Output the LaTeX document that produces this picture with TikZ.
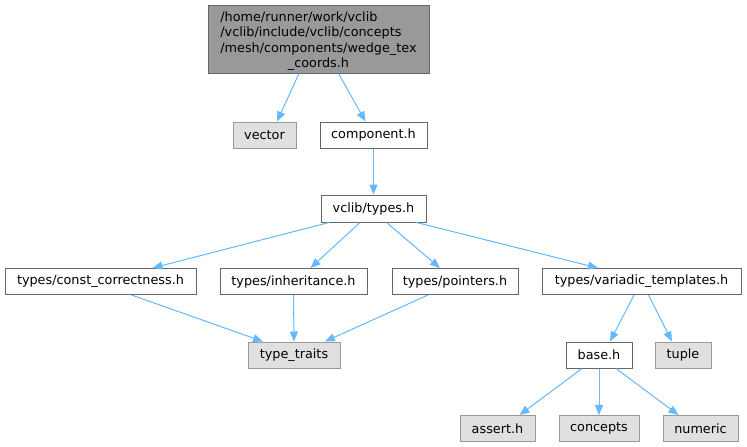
\documentclass[tikz,border=0pt]{standalone}
\usepackage{fontspec}
\setmainfont{DejaVu Sans}
\usetikzlibrary{arrows.meta}
\definecolor{edgeblue}{HTML}{63B8FF}
\definecolor{bdark}{HTML}{666666}
\definecolor{bgray}{HTML}{999999}
\definecolor{fgray}{HTML}{E0E0E0}
\tikzset{
 box/.style={draw=bdark, fill=white, line width=1pt, inner sep=0pt, font=\fontsize{12.8}{15.5}\selectfont, text=black},
 sysbox/.style={box, draw=bgray, fill=fgray},
 topbox/.style={box, fill=bgray},
 dep/.style={draw=edgeblue, line width=1pt, -{Triangle[length=10pt,width=8pt]}},
}
\begin{document}
\begin{tikzpicture}[x=1pt,y=-1pt]
\useasboundingbox (0,0) rectangle (747,447);
\node[topbox, minimum width=221pt, minimum height=68pt] (top) at (318.5,39) {\raisebox{-2.5pt}[\height][\depth]{\begin{tabular}{@{}l@{}}/home/runner/work/vclib\\/vclib/include/vclib/concepts\\/mesh/components/wedge\_tex\\\multicolumn{1}{@{}c@{}}{\_coords.h}\end{tabular}}};
\node[sysbox, minimum width=63pt, minimum height=26pt] (vector) at (264.5,135) {vector};
\node[box, minimum width=107pt, minimum height=26pt] (component) at (373.5,135) {component.h};
\node[box, minimum width=105pt, minimum height=27pt] (types) at (373.5,208.5) {vclib/types.h};
\node[box, minimum width=191pt, minimum height=26pt] (const) at (100.5,281.5) {types/const\_correctness.h};
\node[box, minimum width=147pt, minimum height=26pt] (inher) at (293.5,281.5) {types/inheritance.h};
\node[box, minimum width=126pt, minimum height=26pt] (pointers) at (455,281.5) {types/pointers.h};
\node[box, minimum width=199pt, minimum height=26pt] (variadic) at (641.5,281.5) {types/variadic\_templates.h};
\node[sysbox, minimum width=92pt, minimum height=26pt] (traits) at (294,355) {type\_traits};
\node[box, minimum width=66pt, minimum height=26pt] (base) at (599,355) {base.h};
\node[sysbox, minimum width=56pt, minimum height=26pt] (tuple) at (683,355) {tuple};
\node[sysbox, minimum width=75pt, minimum height=26pt] (assert) at (497.5,428.5) {assert.h};
\node[sysbox, minimum width=80pt, minimum height=26pt] (concepts) at (599,428.5) {concepts};
\node[sysbox, minimum width=75pt, minimum height=26pt] (numeric) at (700.5,428.5) {numeric};

\draw[dep] ([xshift=-19.5pt]top.south) -- ([xshift=12.5pt]vector.north);
\draw[dep] ([xshift=20pt]top.south) -- ([xshift=-8pt]component.north);
\draw[dep] (component.south) -- (types.north);
\draw[dep] ([xshift=-44.5pt]types.south) -- ([xshift=52pt]const.north);
\draw[dep] ([xshift=-13.5pt]types.south) -- ([xshift=17pt]inher.north);
\draw[dep] ([xshift=13pt]types.south) -- ([xshift=-15pt]pointers.north);
\draw[dep] ([xshift=43pt]types.south) -- ([xshift=-43.5pt]variadic.north);
\draw[dep] ([xshift=31pt]const.south) -- ([xshift=-31pt]traits.north);
\draw[dep] (inher.south) -- (traits.north);
\draw[dep] ([xshift=-27pt]pointers.south) -- ([xshift=31pt]traits.north);
\draw[dep] ([xshift=-7.5pt]variadic.south) -- ([xshift=11pt]base.north);
\draw[dep] ([xshift=7pt]variadic.south) -- ([xshift=-11pt]tuple.north);
\draw[dep] ([xshift=-17pt]base.south) -- ([xshift=22pt]assert.north);
\draw[dep] (base.south) -- (concepts.north);
\draw[dep] ([xshift=17pt]base.south) -- ([xshift=-22pt]numeric.north);
\end{tikzpicture}
\end{document}
